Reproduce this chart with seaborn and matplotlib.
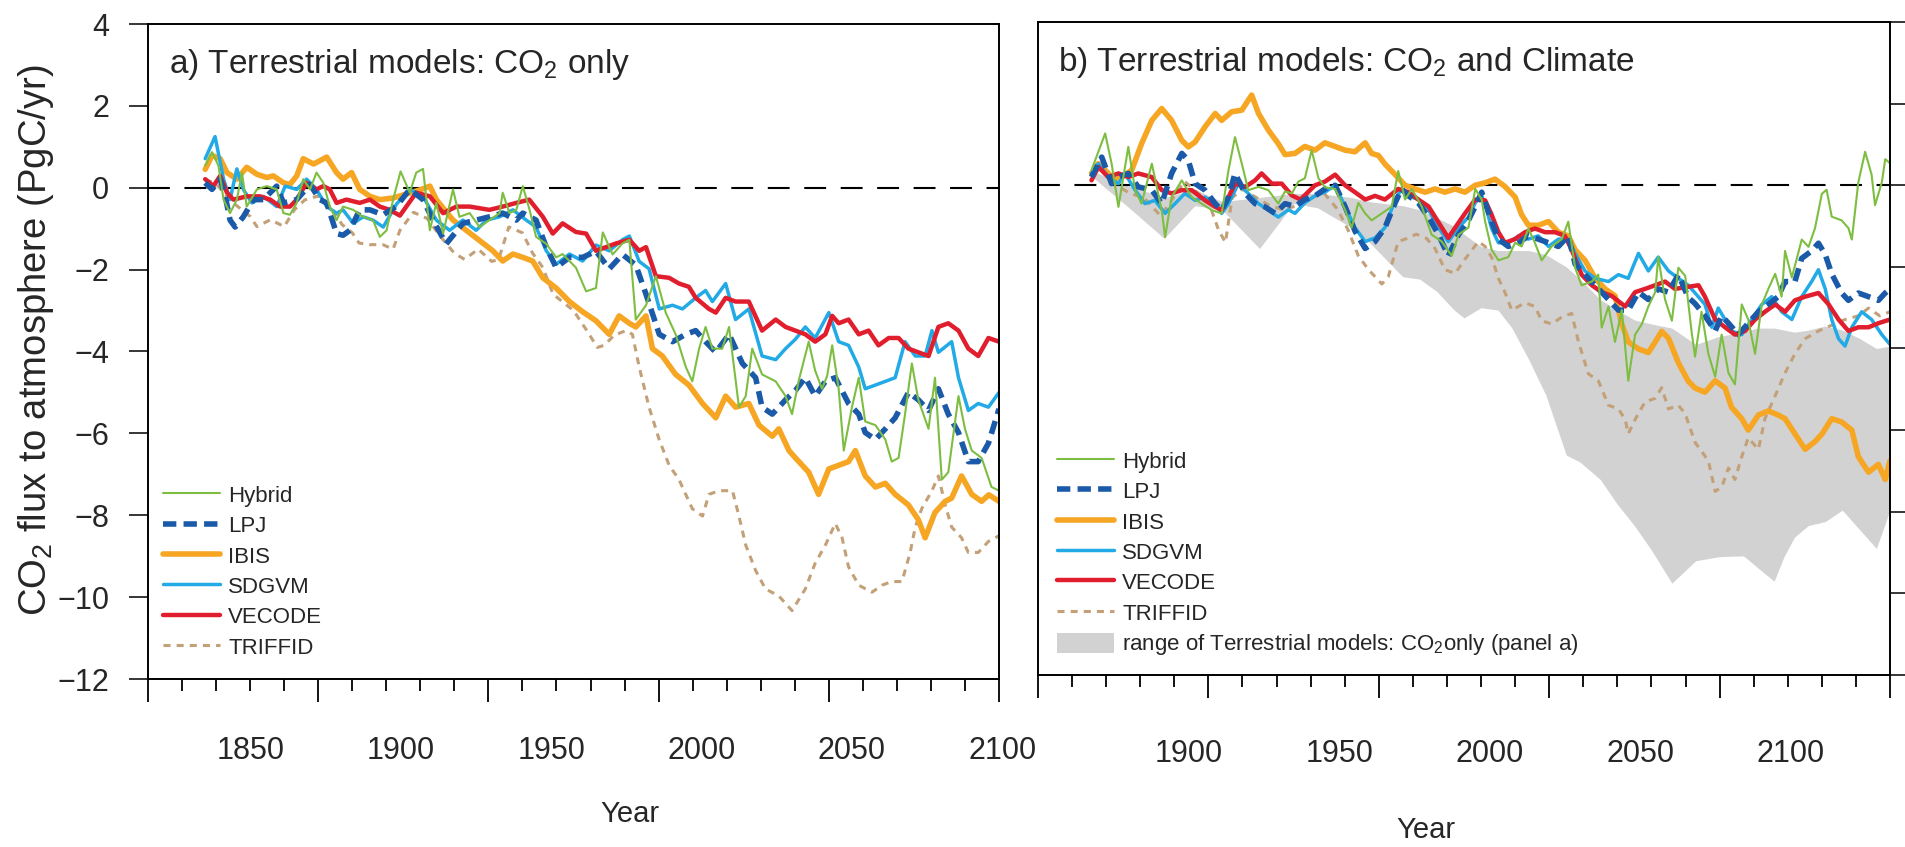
import matplotlib
matplotlib.use("Agg")
import matplotlib.pyplot as plt
import matplotlib.transforms as mtransforms
from matplotlib.patches import Patch
from matplotlib.ticker import MultipleLocator
import pandas as pd
import seaborn as sns

sns.set_style("ticks")
plt.rcParams["font.family"] = ["Liberation Sans", "DejaVu Sans"]
plt.rcParams["mathtext.fontset"] = "custom"
plt.rcParams["mathtext.rm"] = "Liberation Sans"
plt.rcParams["mathtext.it"] = "Liberation Sans:italic"
plt.rcParams["mathtext.bf"] = "Liberation Sans:bold"

# ---------------------------------------------------------------- data
MODELS = ["Hybrid", "LPJ", "IBIS", "SDGVM", "VECODE", "TRIFFID"]

# (year, CO2 flux to atmosphere in PgC/yr) -- panel a: CO2 only
HYBRID_A = [(1866.8, 0.54), (1868.8, 0.87), (1870.7, 0.54), (1872.2, -0.29), (1874.1, -0.62), (1876.1, -0.29),
            (1877.6, 0.37), (1879.0, -0.46), (1882.0, -0.04), (1884.9, 0.04), (1887.8, -0.04), (1889.8, -0.62),
            (1891.7, -0.66), (1893.7, -0.37), (1895.6, 0.21), (1897.6, -0.04), (1899.5, 0.37), (1901.5, 0.12),
            (1903.4, -0.46), (1905.4, -0.79), (1907.3, -0.46), (1910.3, -0.54), (1913.2, -0.71), (1916.1, -0.79),
            (1918.1, -1.20), (1920.1, -1.04), (1922.0, -0.29), (1924.2, 0.40), (1926.9, -0.12), (1928.8, 0.37),
            (1930.8, 0.46), (1932.8, -1.04), (1934.7, -0.37), (1936.7, -1.12), (1939.6, -0.04), (1941.5, -0.71),
            (1944.5, -0.62), (1947.4, -0.96), (1950.3, -0.79), (1953.3, -0.62), (1954.2, -0.12), (1956.2, -0.62),
            (1958.2, -0.54), (1960.1, 0.04), (1962.1, -0.54), (1964.0, -1.20), (1967.0, -1.37), (1969.9, -1.70),
            (1971.8, -1.62), (1975.7, -1.95), (1978.7, -2.53), (1981.6, -2.45), (1983.6, -1.09), (1986.5, -1.63),
            (1989.4, -1.36), (1991.4, -1.27), (1993.3, -3.22), (1996.3, -2.87), (1999.2, -2.16), (2002.1, -3.05),
            (2005.0, -3.58), (2008.0, -4.38), (2009.9, -4.73), (2011.9, -3.93), (2013.8, -3.40), (2015.8, -3.93),
            (2018.7, -3.93), (2020.7, -3.40), (2023.6, -5.36), (2025.6, -5.09), (2027.5, -3.93), (2030.4, -4.56),
            (2034.4, -4.73), (2037.3, -5.09), (2039.2, -5.53), (2041.2, -4.70), (2044.1, -3.76), (2046.0, -4.47),
            (2048.0, -4.91), (2049.5, -4.60), (2051.0, -3.85), (2052.9, -4.91), (2054.4, -6.42), (2056.8, -5.36),
            (2058.8, -4.64), (2060.7, -5.71), (2063.7, -5.80), (2066.6, -6.15), (2068.5, -6.69), (2070.5, -6.60),
            (2072.4, -5.53), (2074.4, -4.29), (2076.3, -5.18), (2079.3, -5.89), (2081.2, -4.64), (2083.2, -7.13),
            (2085.1, -6.95), (2088.1, -5.09), (2090.0, -5.89), (2092.0, -6.42), (2094.9, -6.60), (2097.8, -7.31),
            (2100.0, -7.40)]

LPJ_A = [(1866.8, 0.12), (1868.8, -0.04), (1871.2, 0.21), (1872.7, -0.21), (1874.1, -0.79), (1875.6, -0.96),
         (1878.0, -0.71), (1881.0, -0.29), (1883.9, -0.29), (1887.8, 0.04), (1889.8, -0.37), (1893.7, -0.29),
         (1897.6, 0.08), (1900.5, -0.29), (1902.5, -0.37), (1905.4, -1.12), (1907.3, -1.16), (1909.3, -1.04),
         (1912.2, -0.54), (1915.2, -0.54), (1919.1, -0.66), (1923.0, -0.45), (1926.9, -0.04), (1930.8, -0.29),
         (1933.7, -0.79), (1937.6, -1.37), (1942.5, -0.87), (1946.4, -0.79), (1950.3, -0.71), (1954.2, -0.62),
         (1958.2, -0.79), (1960.1, -0.62), (1964.0, -0.79), (1967.0, -1.45), (1969.9, -1.95), (1973.8, -1.70),
         (1977.7, -1.70), (1981.6, -1.55), (1985.5, -1.98), (1989.4, -1.63), (1993.3, -1.89), (1996.3, -2.60),
         (2000.2, -3.58), (2004.1, -3.76), (2008.0, -3.58), (2010.9, -3.49), (2013.8, -3.76), (2016.8, -4.02),
         (2020.7, -3.58), (2024.6, -4.29), (2028.5, -4.64), (2030.4, -5.36), (2033.4, -5.53), (2037.3, -5.18),
         (2040.2, -4.95), (2043.1, -4.64), (2046.0, -5.09), (2049.0, -4.73), (2051.9, -4.64), (2055.8, -5.27),
         (2058.8, -5.53), (2060.7, -5.98), (2063.7, -6.15), (2066.6, -5.89), (2069.5, -5.62), (2073.4, -5.00),
         (2076.3, -5.18), (2079.3, -5.44), (2082.2, -4.91), (2085.1, -5.53), (2088.1, -5.98), (2091.0, -6.69),
         (2093.9, -6.69), (2096.9, -6.24), (2100.0, -5.40)]

IBIS_A = [(1866.8, 0.45), (1868.8, 0.79), (1871.2, 0.71), (1873.2, 0.37), (1876.1, 0.21), (1879.0, 0.50),
          (1882.0, 0.33), (1884.9, 0.25), (1886.8, 0.29), (1889.8, 0.12), (1891.7, 0.08), (1893.7, 0.29),
          (1895.6, 0.71), (1898.6, 0.58), (1900.5, 0.66), (1902.5, 0.75), (1905.4, 0.37), (1907.3, 0.21),
          (1909.8, 0.37), (1912.2, -0.04), (1915.2, -0.21), (1918.1, -0.29), (1922.0, -0.25), (1926.0, -0.15),
          (1930.0, -0.05), (1932.8, 0.04), (1934.7, -0.29), (1939.6, -0.79), (1943.5, -1.04), (1947.4, -1.29),
          (1951.3, -1.54), (1954.2, -1.79), (1957.2, -1.62), (1960.1, -1.70), (1963.0, -1.79), (1966.0, -2.20),
          (1969.9, -2.45), (1973.8, -2.78), (1977.7, -3.03), (1981.6, -3.25), (1985.5, -3.58), (1988.4, -3.13),
          (1991.4, -3.31), (1993.3, -3.40), (1996.3, -3.13), (1998.2, -3.93), (2001.1, -4.11), (2005.0, -4.56),
          (2008.9, -4.82), (2012.9, -5.27), (2016.8, -5.62), (2019.7, -5.09), (2022.6, -5.36), (2026.5, -5.27),
          (2029.5, -5.80), (2033.4, -6.07), (2035.3, -5.89), (2038.3, -6.42), (2040.2, -6.60), (2044.1, -6.95),
          (2047.0, -7.49), (2050.0, -6.87), (2052.9, -6.78), (2055.8, -6.69), (2057.8, -6.42), (2060.7, -7.04),
          (2063.7, -7.31), (2066.6, -7.22), (2069.5, -7.49), (2073.4, -7.75), (2076.3, -8.11), (2078.3, -8.55),
          (2081.2, -7.93), (2084.2, -7.66), (2086.1, -7.58), (2089.0, -7.04), (2092.0, -7.49), (2094.9, -7.66),
          (2097.0, -7.50), (2100.0, -7.66)]

SDGVM_A = [(1866.8, 0.71), (1869.7, 1.25), (1872.2, 0.21), (1874.1, -0.29), (1876.1, 0.46), (1878.0, -0.04),
           (1880.5, -0.37), (1883.9, -0.21), (1887.8, -0.46), (1890.3, 0.04), (1893.7, -0.04), (1896.6, 0.21),
           (1899.5, -0.04), (1902.5, -0.46), (1905.4, -0.62), (1907.3, -0.54), (1910.3, -0.87), (1913.2, -0.71),
           (1916.1, -0.79), (1919.1, -0.96), (1923.0, -0.40), (1926.9, -0.04), (1930.8, -0.21), (1934.7, -0.79),
           (1938.6, -1.04), (1942.5, -0.79), (1946.4, -1.04), (1949.4, -0.79), (1953.3, -0.71), (1957.2, -0.54),
           (1961.1, -0.79), (1964.0, -0.96), (1967.0, -1.54), (1969.9, -1.87), (1973.8, -1.62), (1977.7, -1.79),
           (1981.6, -1.40), (1985.5, -1.54), (1989.4, -1.27), (1991.4, -1.18), (1994.3, -1.80), (1997.2, -1.98),
           (2000.2, -2.96), (2004.1, -2.87), (2007.0, -2.96), (2010.9, -2.69), (2013.8, -2.51), (2015.8, -2.78),
           (2019.7, -2.34), (2022.6, -3.22), (2026.5, -2.96), (2030.4, -4.11), (2034.4, -4.20), (2037.3, -3.93),
           (2040.2, -3.70), (2043.1, -3.40), (2046.0, -3.67), (2050.0, -3.05), (2052.9, -3.76), (2055.8, -3.85),
           (2058.8, -4.38), (2060.7, -4.91), (2063.7, -4.82), (2066.6, -4.73), (2069.5, -4.64), (2072.4, -3.76),
           (2075.4, -4.11), (2078.3, -4.11), (2080.3, -3.49), (2082.2, -4.02), (2086.1, -3.76), (2088.1, -4.64),
           (2091.0, -5.44), (2093.9, -5.27), (2096.9, -5.36), (2100.0, -5.00)]

VECODE_A = [(1866.8, 0.21), (1869.2, 0.04), (1871.2, 0.29), (1873.2, -0.12), (1875.1, -0.29), (1879.0, -0.21),
            (1882.9, -0.21), (1885.9, -0.29), (1888.8, -0.46), (1891.7, -0.46), (1893.7, -0.29), (1896.6, 0.12),
            (1899.5, -0.04), (1901.5, 0.04), (1903.4, -0.04), (1905.4, -0.37), (1908.3, -0.29), (1912.2, -0.37),
            (1915.2, -0.29), (1918.1, -0.46), (1921.0, -0.54), (1924.0, -0.68), (1928.8, -0.12), (1932.8, -0.21),
            (1936.7, -0.62), (1940.6, -0.46), (1944.5, -0.46), (1950.3, -0.54), (1954.2, -0.46), (1958.2, -0.37),
            (1962.0, -0.29), (1966.0, -0.71), (1968.9, -1.12), (1971.8, -0.87), (1975.7, -1.08), (1978.7, -1.12),
            (1981.6, -1.54), (1987.5, -1.36), (1991.4, -1.27), (1994.3, -1.54), (1996.3, -1.45), (1999.2, -2.16),
            (2003.1, -2.20), (2006.0, -2.34), (2008.9, -2.42), (2010.9, -2.69), (2014.8, -2.96), (2016.8, -3.05),
            (2019.7, -2.69), (2022.6, -2.78), (2026.5, -2.78), (2030.4, -3.49), (2034.4, -3.22), (2037.3, -3.40),
            (2040.2, -3.49), (2043.1, -3.58), (2046.0, -3.76), (2049.0, -3.58), (2051.0, -3.13), (2052.9, -3.31),
            (2055.8, -3.22), (2058.8, -3.58), (2061.7, -3.49), (2064.6, -3.85), (2067.6, -3.67), (2070.5, -3.67),
            (2073.4, -3.93), (2076.3, -4.02), (2079.3, -4.11), (2082.2, -3.40), (2085.1, -3.31), (2088.1, -3.49),
            (2091.0, -3.93), (2093.9, -4.11), (2096.9, -3.67), (2100.0, -3.76)]

TRIFFID_A = [(1866.8, 0.20), (1870.0, 0.10), (1874.0, -0.30), (1877.0, -0.50), (1880.0, -0.70), (1882.0, -0.95),
             (1886.0, -0.78), (1890.0, -0.95), (1893.0, -0.54), (1896.0, -0.30), (1900.0, -0.20), (1904.0, -0.50),
             (1907.0, -0.90), (1910.0, -1.10), (1912.0, -1.35), (1915.0, -1.39), (1919.0, -1.39), (1922.0, -1.50),
             (1924.0, -1.04), (1928.0, -0.60), (1932.0, -0.75), (1936.0, -1.20), (1940.0, -1.60), (1943.0, -1.75),
             (1947.0, -1.50), (1951.0, -1.80), (1953.0, -1.75), (1956.0, -0.96), (1960.0, -1.10), (1963.0, -1.60),
             (1966.0, -1.95), (1969.0, -2.60), (1972.0, -2.80), (1975.0, -3.00), (1979.0, -3.50), (1982.0, -3.90),
             (1984.0, -3.85), (1987.0, -3.60), (1990.4, -3.49), (1992.3, -3.58), (1994.3, -4.38), (1997.2, -5.36),
             (2000.2, -6.16), (2003.1, -6.78), (2006.0, -7.13), (2009.9, -7.84), (2012.9, -8.02), (2014.8, -7.49),
             (2017.7, -7.40), (2021.7, -7.40), (2023.6, -8.02), (2025.6, -8.73), (2028.5, -9.35), (2031.4, -9.80),
             (2035.3, -9.97), (2039.2, -10.33), (2043.1, -9.80), (2046.0, -9.17), (2049.0, -8.73), (2051.9, -8.20),
             (2053.9, -8.55), (2055.8, -9.26), (2058.8, -9.71), (2062.7, -9.88), (2065.6, -9.71), (2068.5, -9.62),
             (2071.5, -9.62), (2073.9, -8.91), (2075.4, -8.29), (2077.3, -7.84), (2080.3, -7.40), (2082.2, -7.04),
             (2084.2, -7.75), (2086.1, -8.29), (2089.0, -8.55), (2091.0, -8.91), (2093.9, -8.91), (2096.9, -8.64),
             (2100.0, -8.50)]

# panel b: CO2 and climate
HYBRID_B = [(1865.7, 0.37), (1869.7, 1.27), (1871.6, 0.53), (1873.6, -0.53), (1876.5, 0.94), (1878.5, -0.12),
            (1880.4, -0.45), (1883.4, 0.53), (1886.3, -0.61), (1887.3, -1.27), (1889.2, -0.29), (1892.2, 0.12),
            (1895.1, -0.29), (1898.0, -0.45), (1901.0, -0.61), (1903.9, -0.69), (1905.9, 0.37), (1907.8, 1.18),
            (1909.8, 0.53), (1911.7, -0.12), (1914.7, -0.04), (1917.6, -0.12), (1920.5, -0.45), (1922.5, -0.15),
            (1924.5, -0.20), (1926.4, 0.09), (1928.3, 0.17), (1930.3, 0.86), (1932.3, 0.17), (1934.2, -0.05),
            (1937.2, -0.09), (1940.1, -0.60), (1942.0, -1.04), (1944.0, -0.43), (1946.0, -0.69), (1947.9, -0.86),
            (1950.9, -0.69), (1953.8, -0.52), (1955.7, 0.35), (1957.7, -0.35), (1959.7, -0.09), (1962.6, -0.52),
            (1965.5, -1.21), (1968.5, -1.38), (1971.4, -1.73), (1973.4, -1.21), (1976.3, -1.04), (1978.3, -0.09),
            (1980.2, -0.35), (1981.2, -0.89), (1983.1, -1.58), (1985.1, -1.84), (1988.0, -1.76), (1990.0, -1.41),
            (1991.9, -1.50), (1993.9, -1.06), (1995.8, -1.41), (1997.8, -1.84), (2000.7, -1.50), (2003.7, -1.32),
            (2005.6, -0.89), (2007.6, -2.02), (2009.5, -2.45), (2012.5, -2.36), (2014.4, -2.19), (2015.4, -3.49),
            (2017.4, -2.97), (2019.3, -3.84), (2021.3, -3.06), (2023.2, -4.79), (2025.2, -3.66), (2027.2, -3.40),
            (2029.1, -2.97), (2031.1, -2.62), (2032.0, -1.76), (2034.0, -2.80), (2036.0, -3.32), (2037.9, -2.02),
            (2039.9, -2.22), (2041.8, -3.60), (2042.8, -4.20), (2044.7, -3.10), (2046.7, -4.13), (2048.7, -4.69),
            (2050.6, -3.66), (2052.6, -4.60), (2054.5, -4.88), (2056.5, -2.92), (2058.4, -3.29), (2060.4, -4.13),
            (2062.4, -2.92), (2064.3, -2.54), (2066.3, -2.17), (2068.2, -2.73), (2069.2, -1.61), (2071.2, -2.26),
            (2074.1, -1.33), (2076.1, -1.51), (2078.0, -1.05), (2080.0, -0.21), (2081.4, -0.11), (2082.9, -0.77),
            (2085.8, -0.86), (2087.8, -1.05), (2088.8, -1.33), (2090.7, 0.07), (2092.7, 0.82), (2094.6, 0.26),
            (2095.6, -0.49), (2097.6, 0.07), (2098.6, 0.64), (2100.0, 0.54)]

LPJ_B = [(1865.7, 0.20), (1868.7, 0.69), (1871.6, 0.04), (1873.6, 0.20), (1876.5, 0.29), (1879.4, -0.04),
         (1883.4, -0.12), (1886.3, -0.45), (1889.2, 0.29), (1892.2, 0.78), (1894.1, 0.61), (1896.1, 0.04),
         (1899.0, -0.12), (1902.0, -0.45), (1903.9, -0.61), (1905.9, -0.29), (1907.8, 0.29), (1910.8, -0.20),
         (1913.7, -0.45), (1916.6, -0.53), (1919.6, -0.69), (1922.5, -0.45), (1925.4, -0.52), (1928.3, -0.35),
         (1931.3, -0.26), (1934.2, -0.09), (1937.2, 0.00), (1940.1, -0.52), (1943.0, -1.12), (1946.0, -1.55),
         (1948.9, -1.38), (1951.8, -1.04), (1954.8, -0.43), (1956.7, -0.09), (1958.7, -0.26), (1961.6, -0.43),
         (1964.6, -0.78), (1967.5, -1.21), (1970.4, -1.73), (1973.4, -1.21), (1976.3, -0.86), (1978.3, -0.52),
         (1980.2, -0.17), (1983.1, -0.89), (1985.1, -1.32), (1988.0, -1.50), (1991.0, -1.41), (1993.9, -1.24),
         (1996.8, -1.32), (1999.8, -1.41), (2002.7, -1.50), (2005.6, -1.24), (2007.6, -1.93), (2010.5, -2.19),
         (2013.5, -2.45), (2017.4, -2.80), (2020.3, -3.06), (2023.2, -3.06), (2026.2, -2.62), (2029.1, -2.80),
         (2032.0, -2.54), (2035.0, -2.62), (2037.9, -2.19), (2040.8, -2.75), (2042.8, -2.90), (2045.7, -3.20),
         (2048.7, -3.57), (2050.6, -3.20), (2052.6, -3.38), (2055.5, -3.66), (2058.4, -3.38), (2061.4, -3.10),
         (2064.3, -2.92), (2067.2, -2.73), (2069.2, -2.36), (2072.1, -2.36), (2074.1, -1.79), (2077.0, -1.61),
         (2079.0, -1.42), (2081.0, -1.70), (2082.9, -2.17), (2085.8, -2.64), (2087.8, -2.82), (2090.7, -2.64),
         (2093.7, -2.73), (2096.6, -2.82), (2098.6, -2.64), (2100.0, -2.54)]

IBIS_B = [(1865.7, 0.29), (1867.7, 0.53), (1869.7, 0.37), (1872.6, 0.12), (1874.6, 0.20), (1877.5, 0.37),
          (1880.4, 1.02), (1883.4, 1.59), (1886.3, 1.88), (1889.2, 1.59), (1892.2, 1.10), (1894.1, 0.94),
          (1896.1, 1.06), (1899.0, 1.43), (1902.0, 1.76), (1903.9, 1.59), (1906.8, 1.80), (1909.8, 1.84),
          (1912.7, 2.21), (1914.7, 1.76), (1917.6, 1.35), (1920.5, 1.02), (1922.5, 0.75), (1925.4, 0.78),
          (1928.3, 0.95), (1931.3, 0.86), (1934.2, 1.04), (1937.2, 0.95), (1940.1, 0.86), (1943.0, 0.82),
          (1946.0, 1.04), (1947.9, 0.78), (1949.9, 0.73), (1951.8, 0.52), (1954.8, 0.26), (1957.7, 0.00),
          (1960.6, -0.09), (1963.6, -0.17), (1966.5, -0.09), (1969.4, -0.17), (1972.4, -0.09), (1975.3, -0.17),
          (1978.3, 0.00), (1981.2, 0.06), (1984.1, 0.15), (1987.0, -0.03), (1990.0, -0.29), (1991.9, -0.72),
          (1993.9, -0.98), (1996.8, -0.98), (1999.8, -0.89), (2002.7, -1.15), (2005.6, -1.24), (2007.6, -1.58),
          (2010.5, -1.84), (2013.5, -2.28), (2016.4, -2.54), (2019.3, -2.71), (2021.3, -3.40), (2023.2, -3.84),
          (2026.2, -4.01), (2029.1, -4.10), (2031.1, -3.84), (2033.0, -3.58), (2035.0, -3.75), (2037.9, -4.35),
          (2040.8, -4.80), (2042.8, -4.97), (2045.7, -5.07), (2048.7, -4.79), (2051.6, -4.97), (2053.5, -5.44),
          (2056.5, -5.72), (2058.4, -6.00), (2061.4, -5.63), (2064.3, -5.53), (2067.2, -5.63), (2069.2, -5.72),
          (2072.1, -6.09), (2075.1, -6.47), (2078.0, -6.28), (2080.0, -6.10), (2082.9, -5.72), (2085.8, -5.80),
          (2088.8, -6.00), (2090.7, -6.65), (2093.7, -7.03), (2096.6, -6.84), (2098.6, -7.21), (2100.0, -6.75)]

SDGVM_B = [(1865.7, 0.29), (1867.7, 0.53), (1870.6, 0.20), (1873.6, 0.04), (1875.5, 0.29), (1878.5, -0.12),
           (1881.4, -0.45), (1884.3, -0.37), (1887.3, -0.69), (1890.2, -0.45), (1893.1, -0.20), (1896.1, -0.37),
           (1899.0, -0.29), (1902.0, -0.45), (1903.9, -0.69), (1905.9, -0.45), (1908.8, 0.04), (1911.7, -0.20),
           (1914.7, -0.45), (1917.6, -0.61), (1920.5, -0.78), (1923.5, -0.60), (1925.4, -0.69), (1928.3, -0.43),
           (1931.3, -0.26), (1934.2, -0.17), (1937.2, 0.00), (1940.1, -0.52), (1943.0, -1.04), (1946.0, -1.38),
           (1948.9, -1.29), (1951.8, -1.04), (1954.8, -0.35), (1956.7, -0.09), (1958.7, -0.26), (1961.6, -0.35),
           (1964.6, -0.60), (1967.5, -1.04), (1970.4, -1.38), (1973.4, -1.04), (1976.3, -0.78), (1978.3, -0.43),
           (1980.2, -0.26), (1981.2, -0.46), (1983.1, -1.06), (1985.1, -1.41), (1988.0, -1.41), (1991.0, -1.24),
           (1993.9, -1.32), (1996.8, -1.24), (1999.8, -1.50), (2002.7, -1.32), (2005.6, -1.32), (2007.6, -1.67),
           (2010.5, -2.10), (2013.5, -2.28), (2017.4, -2.36), (2020.3, -2.19), (2023.2, -2.28), (2026.2, -1.67),
           (2029.1, -2.10), (2032.0, -1.76), (2035.0, -2.10), (2037.9, -2.28), (2040.8, -2.45), (2042.8, -2.64),
           (2045.7, -2.92), (2047.7, -3.48), (2049.6, -3.01), (2051.6, -3.29), (2053.5, -3.57), (2056.5, -3.66),
           (2059.4, -3.29), (2062.4, -2.92), (2065.3, -2.73), (2068.2, -3.10), (2071.2, -3.29), (2074.1, -2.73),
           (2077.0, -2.36), (2079.0, -2.07), (2081.0, -2.54), (2082.9, -3.29), (2084.9, -3.76), (2086.8, -3.94),
           (2088.8, -3.48), (2091.7, -3.10), (2094.6, -3.29), (2097.6, -3.66), (2100.0, -3.90)]

VECODE_B = [(1865.7, 0.12), (1867.7, 0.45), (1870.6, 0.20), (1873.6, 0.29), (1876.5, 0.20), (1879.4, 0.29),
            (1883.4, 0.20), (1886.3, -0.12), (1889.2, -0.20), (1892.2, -0.12), (1895.1, -0.12), (1899.0, -0.37),
            (1902.0, -0.53), (1903.9, -0.61), (1905.9, -0.29), (1907.8, 0.04), (1910.8, -0.04), (1913.7, 0.12),
            (1915.6, 0.29), (1918.6, 0.04), (1921.5, 0.04), (1924.5, -0.25), (1927.0, -0.35), (1931.3, 0.00),
            (1934.2, 0.09), (1937.2, 0.26), (1940.1, 0.00), (1943.0, -0.17), (1946.0, -0.35), (1948.9, -0.26),
            (1951.8, -0.35), (1955.7, -0.09), (1958.7, -0.17), (1961.6, -0.35), (1964.6, -0.52), (1968.5, -1.04),
            (1970.4, -1.29), (1972.4, -1.04), (1975.3, -0.69), (1978.3, -0.35), (1981.2, -0.37), (1983.1, -0.72),
            (1985.1, -1.15), (1987.0, -1.41), (1990.0, -1.32), (1992.9, -1.15), (1995.8, -1.06), (1998.8, -1.15),
            (2001.7, -1.15), (2004.6, -1.24), (2006.6, -1.58), (2009.5, -2.19), (2012.5, -2.45), (2015.4, -2.62),
            (2018.3, -2.71), (2022.3, -2.97), (2025.2, -2.62), (2028.1, -2.54), (2031.1, -2.45), (2034.0, -2.36),
            (2036.9, -2.54), (2039.9, -2.50), (2043.8, -2.45), (2045.7, -2.73), (2048.7, -3.29), (2051.6, -3.48),
            (2054.5, -3.66), (2057.5, -3.57), (2060.4, -3.29), (2063.3, -3.10), (2066.3, -2.92), (2069.2, -3.10),
            (2072.1, -2.82), (2075.1, -2.73), (2079.0, -2.64), (2082.0, -2.92), (2084.9, -3.29), (2087.8, -3.57),
            (2090.7, -3.48), (2093.7, -3.48), (2096.6, -3.38), (2100.0, -3.29)]

TRIFFID_B = [(1865.7, 0.30), (1869.0, 0.40), (1873.0, 0.00), (1877.0, -0.20), (1881.0, -0.30), (1886.0, -0.75),
             (1889.0, -0.40), (1893.0, 0.10), (1897.0, -0.20), (1900.0, -0.40), (1903.0, -1.10), (1905.0, -1.40),
             (1907.0, -0.30), (1910.0, -0.10), (1914.0, -0.30), (1918.0, -0.50), (1922.0, -0.60), (1926.0, -0.50),
             (1930.0, -0.30), (1934.0, -0.20), (1938.0, -0.60), (1941.0, -1.10), (1944.0, -1.73), (1947.0, -2.07),
             (1950.9, -2.42), (1952.8, -2.24), (1954.8, -1.64), (1955.7, -1.38), (1958.7, -1.29), (1961.0, -1.20),
             (1964.0, -1.30), (1966.5, -1.55), (1969.4, -2.07), (1972.4, -2.16), (1975.3, -1.81), (1979.2, -1.38),
             (1981.2, -1.50), (1983.1, -1.76), (1985.1, -2.28), (1987.0, -2.62), (1989.0, -3.06), (1991.0, -2.97),
             (1992.9, -2.88), (1995.8, -2.97), (1997.8, -3.32), (2000.7, -3.40), (2003.7, -3.23), (2006.6, -3.14),
             (2008.6, -3.84), (2011.5, -4.62), (2014.4, -4.79), (2017.4, -5.39), (2020.3, -5.48), (2022.3, -5.74),
             (2023.2, -6.09), (2025.2, -5.74), (2028.1, -5.31), (2031.1, -5.22), (2033.0, -4.96), (2035.0, -5.48),
             (2037.9, -5.39), (2039.9, -5.60), (2042.8, -6.30), (2046.7, -6.75), (2048.7, -7.50), (2050.6, -7.40),
             (2052.6, -6.93), (2054.5, -7.21), (2056.5, -6.65), (2058.4, -6.19), (2061.4, -6.47), (2063.3, -5.72),
             (2066.3, -5.16), (2069.2, -4.60), (2072.1, -4.13), (2075.1, -3.76), (2079.0, -3.57), (2082.9, -3.43),
             (2086.8, -3.29), (2090.7, -3.20), (2093.7, -3.01), (2097.0, -3.20), (2100.0, -3.10)]

# envelope of the CO2-only runs, shown behind panel b
RANGE_YEARS = [1866, 1876, 1887, 1896, 1904, 1915, 1925, 1932, 1942, 1947, 1952, 1957, 1962, 1967, 1972,
               1975, 1980, 1985, 1989, 1994, 1999, 2005, 2009, 2015, 2020, 2025, 2030, 2036, 2043, 2050,
               2057, 2061, 2066, 2069, 2072, 2076, 2081, 2086, 2091, 2096, 2100]
RANGE_LOW = [0.20, -0.50, -1.30, -0.50, -0.60, -1.55, -0.45, -0.55, -1.04, -1.38, -1.81, -2.24, -2.30, -2.60,
             -3.05, -3.25, -3.00, -3.06, -3.49, -4.27, -5.14, -6.61, -6.78, -7.21, -7.82, -8.34, -8.94, -9.75,
             -9.20, -9.10, -9.08, -9.36, -9.70, -9.08, -8.62, -8.34, -8.24, -7.96, -8.43, -8.90, -7.96]
RANGE_HIGH = [0.35, 0.00, -0.30, -0.10, -0.40, -0.30, -0.20, -0.20, -0.30, -0.40, -0.45, -0.50, -0.60, -0.80,
              -1.00, -1.20, -1.50, -1.60, -1.60, -1.60, -1.70, -2.00, -2.30, -2.80, -3.06, -3.30, -3.40, -3.50,
              -3.90, -3.70, -3.60, -3.50, -3.50, -3.55, -3.60, -3.55, -3.45, -3.55, -3.75, -4.00, -3.94]

TICK_LABELS_A = [1850, 1900, 1950, 2000, 2050, 2100]
TICK_LABELS_B = [1900, 1950, 2000, 2050, 2100]

PANEL_A = dict(zip(MODELS, [HYBRID_A, LPJ_A, IBIS_A, SDGVM_A, VECODE_A, TRIFFID_A]))
PANEL_B = dict(zip(MODELS, [HYBRID_B, LPJ_B, IBIS_B, SDGVM_B, VECODE_B, TRIFFID_B]))

# ---------------------------------------------------------------- styles
STYLE = {
    "Hybrid":  dict(color="#7dbe41", lw=1.5, ls="-"),
    "LPJ":     dict(color="#1a5aa8", lw=4.0, ls=(0, (2.4, 1.3))),
    "IBIS":    dict(color="#f6a623", lw=4.0, ls="-"),
    "SDGVM":   dict(color="#22aae6", lw=2.5, ls="-"),
    "VECODE":  dict(color="#e11e2d", lw=3.2, ls="-"),
    "TRIFFID": dict(color="#c3a078", lw=2.2, ls=(0, (2.3, 2.0))),
}
DRAW_ORDER = ["TRIFFID", "IBIS", "SDGVM", "VECODE", "LPJ", "Hybrid"]
RANGE_COLOR = "#d2d2d2"

# label row below the tick marks sits on a compressed year scale
LABEL_SCALE = 0.883
LABEL_SHIFT_A = 30.2
LABEL_SHIFT_B = 0.15

TICK_FS = 22
LEGEND_FS = 16
LEGEND_KW = dict(loc="upper left", frameon=False, fontsize=LEGEND_FS, handlelength=2.57,
                 handletextpad=0.36, labelspacing=0.35, borderpad=0, borderaxespad=0, handleheight=1.0)


def draw_panel(ax, series):
    handles = {}
    for name in DRAW_ORDER:
        df = pd.DataFrame(series[name], columns=["year", "flux"])
        st = STYLE[name]
        sns.lineplot(data=df, x="year", y="flux", ax=ax, color=st["color"], linewidth=st["lw"],
                     estimator=None, sort=False, legend=False)
        line = ax.lines[-1]
        line.set_linestyle(st["ls"])
        line.set_solid_joinstyle("round")
        handles[name] = line
    ax.axhline(0, color="black", lw=1.5, ls=(0, (10.5, 7)), zorder=1)
    return [handles[m] for m in MODELS]


def style_axes(ax):
    ax.set_xlim(1850, 2100)
    ax.set_ylim(-12, 4)
    ax.set_xlabel("")
    ax.set_ylabel("")
    ax.xaxis.set_major_locator(MultipleLocator(50))
    ax.xaxis.set_minor_locator(MultipleLocator(10))
    ax.set_yticks(range(-12, 5, 2))
    ax.tick_params(axis="x", which="major", direction="out", length=16.5, width=1.3,
                   labelbottom=False, color="black")
    ax.tick_params(axis="x", which="minor", direction="out", length=8.6, width=1.3,
                   bottom=True, color="black")
    for sp in ax.spines.values():
        sp.set_visible(True)
        sp.set_linewidth(1.4)
        sp.set_color("black")


def year_labels(ax, years, shift, y_frac):
    trans = mtransforms.blended_transform_factory(ax.transData, ax.transAxes)
    for yr in years:
        ax.text(1850 + shift + LABEL_SCALE * (yr - 1850), y_frac, str(yr), transform=trans,
                ha="center", va="baseline", fontsize=TICK_FS, clip_on=False)


W, H = 1906, 847
fig = plt.figure(figsize=(W / 100, H / 100), dpi=100)
ax_a = fig.add_axes([148 / W, (H - 679) / H, 851 / W, 655 / H])
ax_b = fig.add_axes([1038 / W, (H - 675) / H, 852 / W, 653 / H])

# ---- panel a
lines_a = draw_panel(ax_a, PANEL_A)
style_axes(ax_a)
ax_a.tick_params(axis="y", which="major", direction="out", length=14, width=1.3,
                 labelsize=TICK_FS, pad=14, left=True, right=False)
year_labels(ax_a, TICK_LABELS_A, LABEL_SHIFT_A, -0.1221)
ax_a.text(0.5664, -0.206, "Year", transform=ax_a.transAxes, ha="center", va="center", fontsize=21)
ax_a.set_ylabel("CO$_\\mathregular{2}$ flux to atmosphere (PgC/yr)", fontsize=27.5, va="center")
ax_a.yaxis.set_label_coords(-0.1316, 0.517)
ax_a.text(0.0247, 0.9252, "a) Terrestrial models: CO$_\\mathregular{2}$ only", transform=ax_a.transAxes,
          ha="left", va="baseline", fontsize=24)
ax_a.legend(lines_a, MODELS, bbox_to_anchor=(0.0176, 0.2970), **LEGEND_KW)

# ---- panel b
ax_b.fill_between(RANGE_YEARS, RANGE_LOW, RANGE_HIGH, color=RANGE_COLOR, lw=0, zorder=0.5)
lines_b = draw_panel(ax_b, PANEL_B)
style_axes(ax_b)
ax_b.tick_params(axis="y", which="major", direction="out", length=14, width=1.3,
                 left=False, labelleft=False, right=True, labelright=False)
year_labels(ax_b, TICK_LABELS_B, LABEL_SHIFT_B, -0.1332)
ax_b.text(0.4554, -0.2374, "Year", transform=ax_b.transAxes, ha="center", va="center", fontsize=21)
ax_b.text(0.0235, 0.925, "b) Terrestrial models: CO$_\\mathregular{2}$ and Climate", transform=ax_b.transAxes,
          ha="left", va="baseline", fontsize=24)
range_handle = Patch(facecolor=RANGE_COLOR, edgecolor="none")
ax_b.legend(lines_b + [range_handle],
            MODELS + ["range of Terrestrial models: CO$_\\mathregular{2}$only (panel a)"],
            bbox_to_anchor=(0.0223, 0.3440), **LEGEND_KW)

fig.savefig("out.png", dpi=100)
